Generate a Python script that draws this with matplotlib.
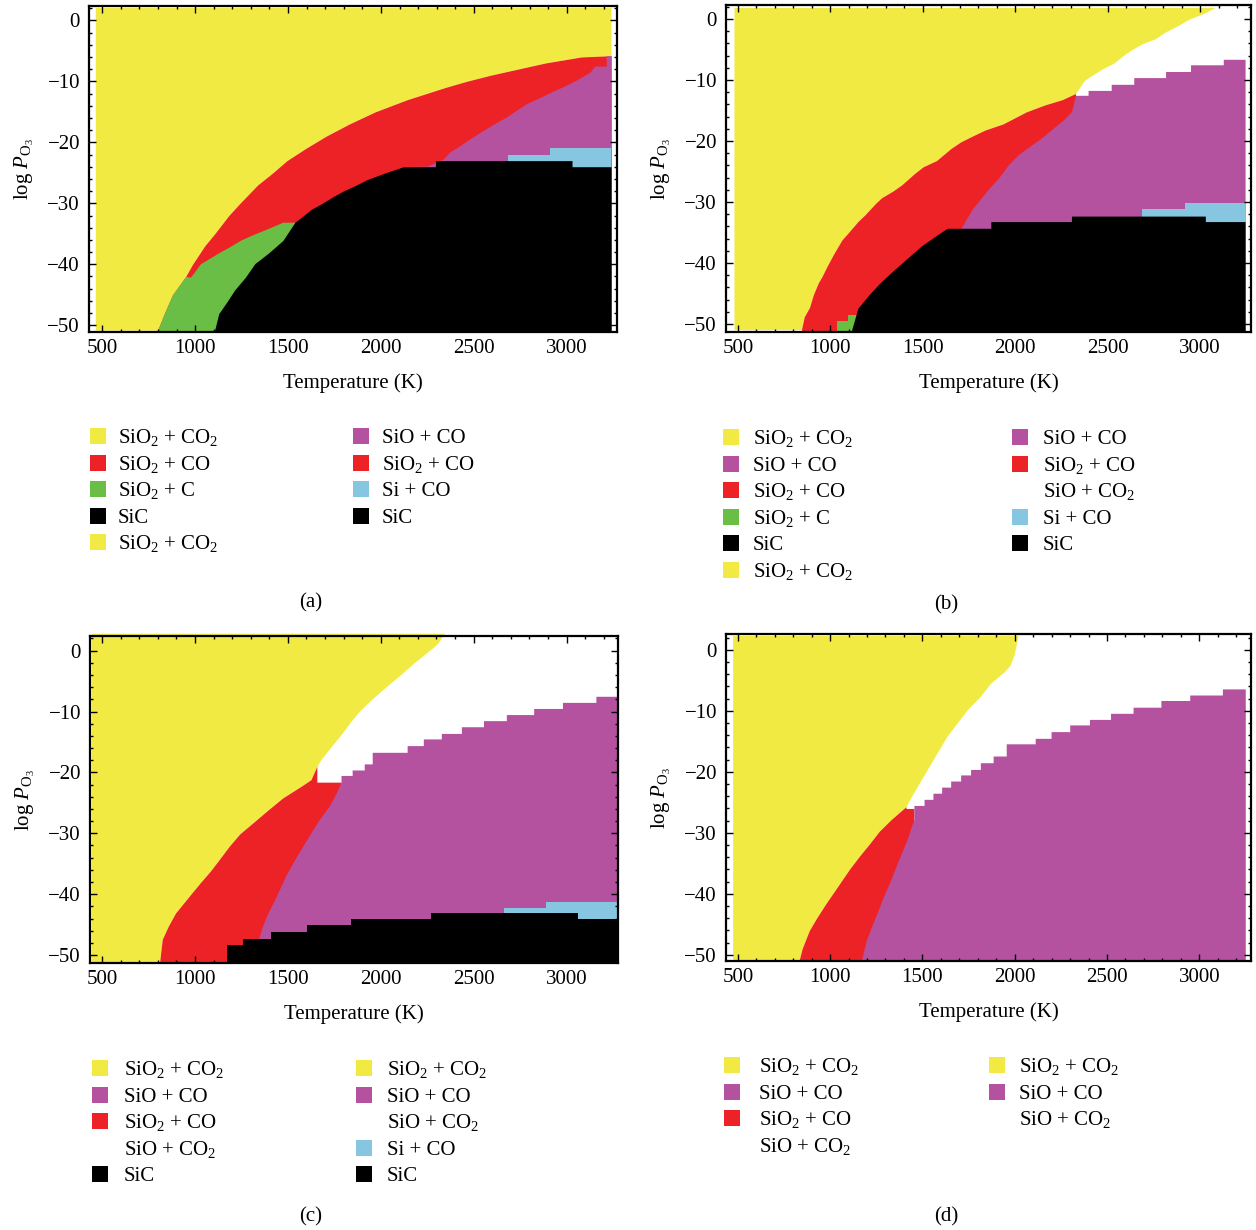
import numpy as np
import matplotlib
matplotlib.use("Agg")
import matplotlib.pyplot as plt
from matplotlib.patches import Rectangle
from matplotlib.ticker import MultipleLocator

plt.rcParams["font.family"] = "Liberation Serif"
plt.rcParams["mathtext.fontset"] = "custom"
plt.rcParams["mathtext.rm"] = "Liberation Serif"
plt.rcParams["mathtext.it"] = "Liberation Serif:italic"
plt.rcParams["mathtext.bf"] = "Liberation Serif:bold"

YELLOW = "#F1EA43"
RED = "#EC2227"
GREEN = "#6ABD45"
PURPLE = "#B4529F"
CYAN = "#86C6E1"
BLACK = "#000000"

X_TICKS = [500, 1000, 1500, 2000, 2500, 3000]
Y_TICKS = [0, -10, -20, -30, -40, -50]

# ---- panel (a) ----  temperature (K) / log P of each phase's upper edge
A_TOP = 2.1
A_EDGE_T = [463, 798, 835, 878, 949, 986, 1051, 1105, 1181, 1241, 1336, 1418, 1494,
            1595, 1704, 1829, 1969, 2142, 2347, 2460, 2589, 2736, 2883, 3078, 3238]
A_EDGE_P = [-50.8, -50.8, -48, -45, -42, -40, -37, -35, -32, -30, -27, -25, -23,
            -21, -19, -17, -15, -13, -11, -10, -9, -8, -7, -6, -5.8]
A_GRN_T = [798, 835, 878, 949, 975, 1029, 1073, 1127, 1181, 1241, 1306, 1386, 1472, 1537]
A_GRN_P = [-50.8, -48.0, -45.0, -42.0, -42.1, -39.9, -39.1, -38.1, -37.2, -36.1, -35.2,
           -34.2, -33.1, -33.1]
A_PUR_T = [2121, 2250, 2337, 2369, 2412, 2466, 2520, 2564, 2618, 2672, 2726, 2780,
           2844, 2920, 2985, 3050, 3125, 3150]
A_PUR_P = [-24.0, -23.9, -22.7, -21.6, -20.8, -19.7, -18.6, -17.8, -16.8, -15.9, -14.8,
           -13.7, -12.8, -11.7, -10.8, -9.8, -8.5, -7.5]
A_PUR_EDGES = [3150, 3212, 3238]
A_PUR_LEVELS = [-7.5, -5.8]
A_CYN_EDGES = [2682, 2909, 3238]
A_CYN_LEVELS = [-22.0, -21.0]
A_BLK_T = [1105, 1127, 1170, 1213, 1271, 1321, 1397, 1472, 1537, 1580, 1624, 1678,
           1732, 1796, 1861, 1926, 2023, 2121]
A_BLK_P = [-50.8, -48.1, -46.2, -44.2, -42.1, -39.9, -38.1, -36.1, -33.1, -32.1, -31.0,
           -30.1, -29.1, -28.0, -27.1, -26.1, -25.0, -24.0]
A_BLK_EDGES = [2121, 2293, 3028, 3238]
A_BLK_LEVELS = [-24.0, -23.0, -24.0]

# ---- panel (b) ----
B_TOP = 1.9
B_EDGE_T = [479, 844, 859, 887, 908, 934, 955, 981, 1020, 1063, 1095, 1149, 1187, 1245,
            1277, 1338, 1385, 1460, 1503, 1574, 1653, 1707, 1767, 1836, 1933, 2061, 2158,
            2255, 2326, 2373, 2416, 2470, 2534, 2583, 2626, 2684, 2759, 2813, 2878, 2942,
            3017, 3082]
B_EDGE_P = [-50.9, -50.9, -48.8, -47.3, -45.2, -43.3, -42.2, -40.6, -38.4, -36.2, -35.1,
            -33.2, -32.1, -30.2, -29.3, -28.2, -27.2, -25.2, -24.2, -23.2, -21.2, -20.1,
            -19.2, -18.2, -17.2, -15.2, -14.1, -13.2, -12.2, -10.1, -9.2, -8.2, -7.2, -6.0,
            -5.1, -4.1, -3.2, -2.1, -1.1, 0.0, 0.9, 1.9]
B_RED_END = 2326
B_GRN_EDGES = [1037, 1095, 1150]
B_GRN_LEVELS = [-49.5, -48.5]
B_PUR_T = [1707, 1739, 1771, 1814, 1857, 1911, 1965, 2018, 2072, 2137, 2201, 2265, 2304, 2326]
B_PUR_P = [-34.3, -32.6, -31.0, -29.4, -27.8, -26.0, -23.8, -22.2, -21.0, -19.6, -18.0,
           -16.4, -15.2, -12.5]
B_PUR_EDGES = [2326, 2394, 2519, 2641, 2813, 2948, 3125, 3243]
B_PUR_LEVELS = [-12.5, -11.7, -10.7, -9.6, -8.6, -7.5, -6.6]
B_CYN_EDGES = [2684, 2920, 3243]
B_CYN_LEVELS = [-31.2, -30.2]
B_BLK_T = [1116, 1149, 1209, 1267, 1338, 1417, 1492, 1582, 1632]
B_BLK_P = [-50.9, -47.4, -45.2, -43.3, -41.3, -39.2, -37.2, -35.3, -34.3]
B_BLK_EDGES = [1632, 1868, 2304, 3028, 3243]
B_BLK_LEVELS = [-34.3, -33.2, -32.3, -33.2]

# ---- panel (c) ----
C_TOP = 2.85
C_EDGE_T = [442, 809, 824, 857, 895, 975, 1029, 1083, 1133, 1185, 1241, 1315, 1392, 1472,
            1570, 1624, 1656, 1678, 1732, 1786, 1840, 1889, 1958, 2034, 2105, 2179, 2261,
            2304, 2343]
C_EDGE_P = [-51.3, -51.3, -47.4, -45.2, -43.1, -40.1, -38.1, -36.2, -34.2, -32.1, -30.1,
            -28.2, -26.2, -24.2, -22.3, -21.2, -19.0, -17.9, -15.8, -13.8, -11.6, -9.8,
            -7.8, -5.8, -4.0, -2.0, 0.0, 1.1, 2.85]
C_RED_END = 1656
C_RED_EDGES = [1656, 1786]
C_RED_LEVELS = [-21.6]
C_PUR_T = [1343, 1364, 1392, 1429, 1462, 1496, 1537, 1580, 1624, 1667, 1721, 1760, 1786]
C_PUR_P = [-47.3, -45.2, -43.1, -40.9, -38.7, -36.5, -34.3, -32.1, -29.9, -27.8, -25.6,
           -23.4, -21.6]
C_PUR_EDGES = [1786, 1846, 1911, 1954, 2142, 2229, 2326, 2434, 2553, 2676, 2823, 2978,
               3158, 3270]
C_PUR_LEVELS = [-20.5, -19.6, -18.6, -16.7, -15.6, -14.5, -13.6, -12.5, -11.5, -10.5,
                -9.5, -8.5, -7.5]
C_CYN_EDGES = [2661, 2888, 3270]
C_CYN_LEVELS = [-42.2, -41.3]
C_BLK_EDGES = [1170, 1256, 1408, 1602, 1840, 2272, 3061, 3270]
C_BLK_LEVELS = [-48.3, -47.3, -46.2, -45.1, -44.1, -43.1, -44.1]

# ---- panel (d) ----
D_TOP = 2.35
D_EDGE_T = [472, 833, 848, 887, 930, 977, 1020, 1063, 1106, 1159, 1213, 1267, 1331, 1411,
            1439, 1503, 1546, 1589, 1632, 1690, 1746, 1814, 1868, 1943, 1975, 1997, 2018]
D_EDGE_P = [-50.8, -50.8, -49.0, -46.0, -43.8, -41.6, -39.7, -37.8, -35.9, -33.8, -31.8,
            -29.7, -27.8, -25.7, -24.1, -20.8, -18.6, -16.4, -14.2, -11.9, -9.7, -7.6,
            -5.5, -3.6, -2.5, -0.7, 2.35]
D_RED_END = 1411
D_RED_EDGES = [1411, 1454]
D_RED_LEVELS = [-26.0]
D_PUR_T = [1170, 1196, 1230, 1260, 1288, 1331, 1374, 1411, 1428, 1439, 1454]
D_PUR_P = [-50.8, -47.6, -44.9, -42.7, -40.5, -37.5, -34.2, -31.5, -30.1, -29.0, -27.9]
D_PUR_EDGES = [1454, 1509, 1557, 1604, 1653, 1707, 1761, 1814, 1883, 1954, 2111, 2197,
               2298, 2405, 2519, 2641, 2792, 2948, 3125, 3249]
D_PUR_LEVELS = [-25.5, -24.5, -23.5, -22.5, -21.5, -20.5, -19.6, -18.5, -17.4, -15.4,
                -14.5, -13.4, -12.3, -11.4, -10.4, -9.4, -8.3, -7.4, -6.4]

# ---- legends ----
S_SIO2_CO2 = r"SiO$_2$ + CO$_2$"
S_SIO2_CO = r"SiO$_2$ + CO"
S_SIO2_C = r"SiO$_2$ + C"
S_SIO_CO = "SiO + CO"
S_SIO_CO2 = r"SiO + CO$_2$"
S_SI_CO = "Si + CO"
S_SIC = "SiC"

A_LEG_LEFT = [(S_SIO2_CO2, YELLOW), (S_SIO2_CO, RED), (S_SIO2_C, GREEN), (S_SIC, BLACK),
              (S_SIO2_CO2, YELLOW)]
A_LEG_RIGHT = [(S_SIO_CO, PURPLE), (S_SIO2_CO, RED), (S_SI_CO, CYAN), (S_SIC, BLACK)]
B_LEG_LEFT = [(S_SIO2_CO2, YELLOW), (S_SIO_CO, PURPLE), (S_SIO2_CO, RED), (S_SIO2_C, GREEN),
              (S_SIC, BLACK), (S_SIO2_CO2, YELLOW)]
B_LEG_RIGHT = [(S_SIO_CO, PURPLE), (S_SIO2_CO, RED), (S_SIO_CO2, None), (S_SI_CO, CYAN),
               (S_SIC, BLACK)]
C_LEG_LEFT = [(S_SIO2_CO2, YELLOW), (S_SIO_CO, PURPLE), (S_SIO2_CO, RED), (S_SIO_CO2, None),
              (S_SIC, BLACK)]
C_LEG_RIGHT = [(S_SIO2_CO2, YELLOW), (S_SIO_CO, PURPLE), (S_SIO_CO2, None), (S_SI_CO, CYAN),
               (S_SIC, BLACK)]
D_LEG_LEFT = [(S_SIO2_CO2, YELLOW), (S_SIO_CO, PURPLE), (S_SIO2_CO, RED), (S_SIO_CO2, None)]
D_LEG_RIGHT = [(S_SIO2_CO2, YELLOW), (S_SIO_CO, PURPLE), (S_SIO_CO2, None)]

W, H = 1256, 1230
FS = 15


def stairs(edges, levels):
    xs, ys = [], []
    for i, lv in enumerate(levels):
        xs += [edges[i], edges[i + 1]]
        ys += [lv, lv]
    return xs, ys


def curve(T=(), P=(), edges=(), levels=()):
    sx, sy = stairs(edges, levels)
    return np.array(list(T) + sx, float), np.array(list(P) + sy, float)


def fill_below(ax, T, P, color):
    # filled down past the frame so stacked layers leave no seam at the bottom
    bottom = ax.get_ylim()[0] - 1
    ax.fill_between(T, bottom, P, color=color, lw=0)


def make_axes(px, xlim, ylim):
    left, top, right, bottom = px
    ax = fig.add_axes([left / W, 1 - bottom / H, (right - left) / W, (bottom - top) / H])
    ax.set_xlim(xlim)
    ax.set_ylim(ylim)
    ax.set_xticks(X_TICKS)
    ax.set_yticks(Y_TICKS)
    ax.xaxis.set_minor_locator(MultipleLocator(100))
    ax.yaxis.set_minor_locator(MultipleLocator(2))
    ax.tick_params(which="both", direction="in", top=True, right=True, width=1)
    ax.tick_params(which="major", length=5, labelsize=FS)
    ax.tick_params(which="minor", length=2.5)
    ax.tick_params(axis="x", which="major", pad=5)
    ax.tick_params(axis="y", which="major", pad=6.5)
    for s in ax.spines.values():
        s.set_linewidth(1.6)
    ax.set_xlabel("Temperature (K)", fontsize=FS, labelpad=11)
    ax.set_ylabel(r"log $P_{\mathrm{O}_3}$", fontsize=FS, labelpad=8)
    return ax


def legend_column(x_sq, x_txt, y0, entries):
    for i, (label, color) in enumerate(entries):
        y = y0 + i * 26.6
        if color is not None:
            fig.patches.append(Rectangle((x_sq / W, 1 - (y + 8) / H), 16 / W, 16 / H,
                                         transform=fig.transFigure, color=color, lw=0))
        fig.text(x_txt / W, 1 - (y + 7) / H, label, fontsize=FS, va="baseline")


def draw_yellow(ax, T, P, top, **kw):
    # yellow sits above the edge; the layer below it starts where the edge leaves the floor
    ax.fill_between(T, P, top, color=YELLOW, lw=0, **kw)
    return T[1:], P[1:]


fig = plt.figure(figsize=(W / 100, H / 100), dpi=100)

# (a)
ax = make_axes((89, 6, 617, 332), (429, 3270), (-51.1, 2.35))
T, P = draw_yellow(ax, *curve(A_EDGE_T, A_EDGE_P), A_TOP)
fill_below(ax, T, P, RED)
fill_below(ax, *curve(A_GRN_T, A_GRN_P), GREEN)
fill_below(ax, *curve(A_PUR_T, A_PUR_P, A_PUR_EDGES, A_PUR_LEVELS), PURPLE)
fill_below(ax, *curve(edges=A_CYN_EDGES, levels=A_CYN_LEVELS), CYAN)
fill_below(ax, *curve(A_BLK_T, A_BLK_P, A_BLK_EDGES, A_BLK_LEVELS), BLACK)

# (b)
ax = make_axes((726, 5, 1251, 332), (436, 3275), (-51.3, 2.3))
T, P = draw_yellow(ax, *curve(B_EDGE_T, B_EDGE_P), B_TOP)
m = T <= B_RED_END
fill_below(ax, T[m], P[m], RED)
fill_below(ax, *curve(edges=B_GRN_EDGES, levels=B_GRN_LEVELS), GREEN)
fill_below(ax, *curve(B_PUR_T, B_PUR_P, B_PUR_EDGES, B_PUR_LEVELS), PURPLE)
fill_below(ax, *curve(edges=B_CYN_EDGES, levels=B_CYN_LEVELS), CYAN)
fill_below(ax, *curve(B_BLK_T, B_BLK_P, B_BLK_EDGES, B_BLK_LEVELS), BLACK)

# (c)
ax = make_axes((90, 636, 618, 963), (435, 3277), (-51.3, 2.4))
T, P = draw_yellow(ax, *curve(C_EDGE_T, C_EDGE_P), C_TOP, clip_on=False)
m = T <= C_RED_END
fill_below(ax, *curve(T[m], P[m], C_RED_EDGES, C_RED_LEVELS), RED)
fill_below(ax, *curve(C_PUR_T, C_PUR_P, C_PUR_EDGES, C_PUR_LEVELS), PURPLE)
fill_below(ax, *curve(edges=C_CYN_EDGES, levels=C_CYN_LEVELS), CYAN)
fill_below(ax, *curve(edges=C_BLK_EDGES, levels=C_BLK_LEVELS), BLACK)

# (d)
ax = make_axes((726, 634, 1251, 961), (436, 3280), (-51.0, 2.6))
T, P = draw_yellow(ax, *curve(D_EDGE_T, D_EDGE_P), D_TOP)
m = T <= D_RED_END
fill_below(ax, *curve(T[m], P[m], D_RED_EDGES, D_RED_LEVELS), RED)
fill_below(ax, *curve(D_PUR_T, D_PUR_P, D_PUR_EDGES, D_PUR_LEVELS), PURPLE)

# legends and captions
legend_column(90, 118, 436, A_LEG_LEFT)
legend_column(353, 382, 436, A_LEG_RIGHT)
legend_column(723, 753, 437, B_LEG_LEFT)
legend_column(1012, 1043, 437, B_LEG_RIGHT)
legend_column(92, 124, 1068, C_LEG_LEFT)
legend_column(356, 387, 1068, C_LEG_RIGHT)
legend_column(724, 759, 1065, D_LEG_LEFT)
legend_column(989, 1019, 1065, D_LEG_RIGHT)

for label, x, y in [("(a)", 311, 603), ("(b)", 946, 605), ("(c)", 311, 1217), ("(d)", 946, 1217)]:
    fig.text(x / W, 1 - y / H, label, fontsize=FS, ha="center", va="center")

fig.savefig("out.png", dpi=100)
